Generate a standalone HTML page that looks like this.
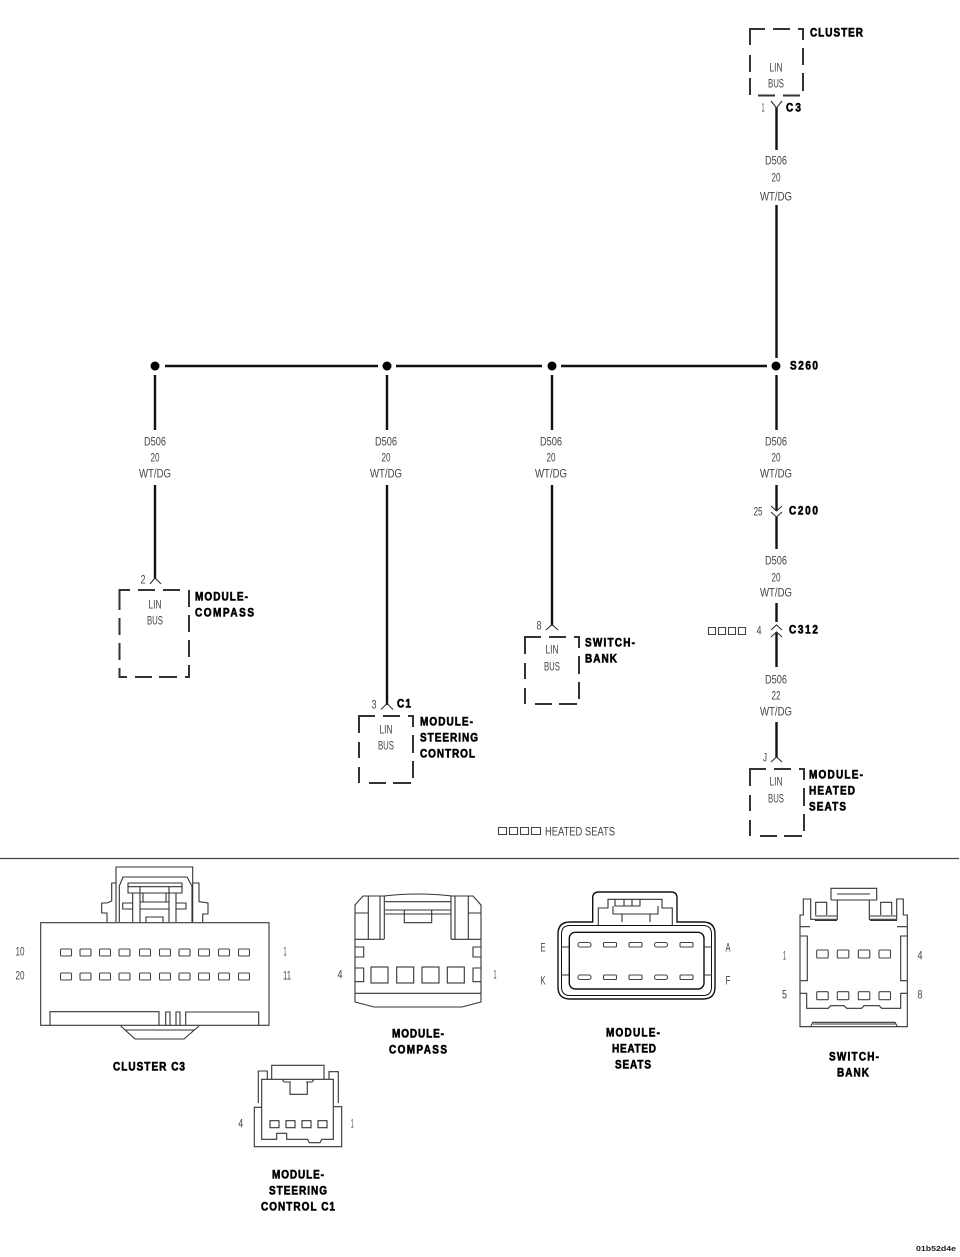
<!DOCTYPE html>
<html><head><meta charset="utf-8"><style>
html,body{margin:0;padding:0;background:#fff}
svg{display:block;filter:blur(.35px)}
text{font-family:"Liberation Sans",sans-serif}
.t{font-size:11px;fill:#444;text-anchor:middle;transform-box:fill-box;transform-origin:50% 100%;transform:translateY(.6px) scaleY(1.1)}
.b{font-size:10px;font-weight:bold;fill:#000;stroke:#000;stroke-width:.5;transform-box:fill-box;transform-origin:0 100%;transform:translateY(1px) scaleY(1.2)}
.c{text-anchor:middle;transform-origin:50% 100%}
.w{stroke:#111;stroke-width:2.4;fill:none}
.a{stroke:#333;stroke-width:1.1;fill:none}
.d{stroke:#333;stroke-width:2;fill:none}
.l{stroke:#333;stroke-width:1.1;fill:none}
.p{stroke:#444;stroke-width:1.1;fill:none}
.h{stroke:#111;stroke-width:1.4;fill:none}
</style></head><body>
<svg width="960" height="1257" viewBox="0 0 960 1257" xmlns="http://www.w3.org/2000/svg">
<defs>
<g id="box"><path class="d" d="M0,17V0H16M24,0H41M49,0H54V11M54,19V37M54,45V62M0,26V42M0,51V67M10,67H27M34,67H52"/></g>
</defs>

<!-- bus -->
<path class="w" d="M165,366H378M396,366H542M561,366H767"/>
<circle cx="155" cy="366" r="4.5" fill="#000"/><circle cx="387" cy="366" r="4.5" fill="#000"/><circle cx="552" cy="366" r="4.5" fill="#000"/><circle cx="776" cy="366" r="4.5" fill="#000"/>

<!-- wires -->
<path class="w" d="M155,375V430M155,485V579M387,375V430M387,485V705M552,375V430M552,485V626"/>
<path class="w" d="M776.500,107V150M776.500,205V358M776.500,375V430M776.500,485V511M776.500,517V549M776.500,603V622M776.500,632V667M776.500,722V758"/>

<!-- arrows -->
<path class="a" d="M150,584L155,578L161,584M381,709.500L387,703.500L393,709.500M546,630L552,624.500L558,630M771,762L776.500,757L782,762"/>
<path class="a" d="M771,101L776.500,108L782,101M771,506L776.500,511L782,506M771,512L776.500,517L782,512M771,630L776.500,625L782,630M771,637L776.500,632L782,637"/>

<!-- wire labels -->
<g class="labels">
<text class="t" x="776" y="164" textLength="22" lengthAdjust="spacingAndGlyphs">D506</text><text class="t" x="776" y="181" textLength="9" lengthAdjust="spacingAndGlyphs">20</text><text class="t" x="776" y="200" textLength="32" lengthAdjust="spacingAndGlyphs">WT/DG</text>
<text class="t" x="155" y="445" textLength="22" lengthAdjust="spacingAndGlyphs">D506</text><text class="t" x="155" y="461" textLength="9" lengthAdjust="spacingAndGlyphs">20</text><text class="t" x="155" y="477" textLength="32" lengthAdjust="spacingAndGlyphs">WT/DG</text>
<text class="t" x="386" y="445" textLength="22" lengthAdjust="spacingAndGlyphs">D506</text><text class="t" x="386" y="461" textLength="9" lengthAdjust="spacingAndGlyphs">20</text><text class="t" x="386" y="477" textLength="32" lengthAdjust="spacingAndGlyphs">WT/DG</text>
<text class="t" x="551" y="445" textLength="22" lengthAdjust="spacingAndGlyphs">D506</text><text class="t" x="551" y="461" textLength="9" lengthAdjust="spacingAndGlyphs">20</text><text class="t" x="551" y="477" textLength="32" lengthAdjust="spacingAndGlyphs">WT/DG</text>
<text class="t" x="776" y="445" textLength="22" lengthAdjust="spacingAndGlyphs">D506</text><text class="t" x="776" y="461" textLength="9" lengthAdjust="spacingAndGlyphs">20</text><text class="t" x="776" y="477" textLength="32" lengthAdjust="spacingAndGlyphs">WT/DG</text>
<text class="t" x="776" y="564" textLength="22" lengthAdjust="spacingAndGlyphs">D506</text><text class="t" x="776" y="581" textLength="9" lengthAdjust="spacingAndGlyphs">20</text><text class="t" x="776" y="596" textLength="32" lengthAdjust="spacingAndGlyphs">WT/DG</text>
<text class="t" x="776" y="683" textLength="22" lengthAdjust="spacingAndGlyphs">D506</text><text class="t" x="776" y="699" textLength="9" lengthAdjust="spacingAndGlyphs">22</text><text class="t" x="776" y="715" textLength="32" lengthAdjust="spacingAndGlyphs">WT/DG</text>
<!-- pins -->
<text class="t" x="763" y="111" textLength="3" lengthAdjust="spacingAndGlyphs">1</text>
<text class="t" x="143" y="583" textLength="5" lengthAdjust="spacingAndGlyphs">2</text>
<text class="t" x="374" y="708" textLength="5" lengthAdjust="spacingAndGlyphs">3</text>
<text class="t" x="539" y="629" textLength="5" lengthAdjust="spacingAndGlyphs">8</text>
<text class="t" x="765" y="761" textLength="4" lengthAdjust="spacingAndGlyphs">J</text>
<text class="t" x="758" y="515" textLength="9" lengthAdjust="spacingAndGlyphs">25</text>
<text class="t" x="759" y="634" textLength="5" lengthAdjust="spacingAndGlyphs">4</text>
<!-- LIN BUS -->
<text class="t" x="776" y="71" textLength="13" lengthAdjust="spacingAndGlyphs">LIN</text><text class="t" x="776" y="87" textLength="16" lengthAdjust="spacingAndGlyphs">BUS</text>
<text class="t" x="155" y="608" textLength="13" lengthAdjust="spacingAndGlyphs">LIN</text><text class="t" x="155" y="624" textLength="16" lengthAdjust="spacingAndGlyphs">BUS</text>
<text class="t" x="386" y="733" textLength="13" lengthAdjust="spacingAndGlyphs">LIN</text><text class="t" x="386" y="749" textLength="16" lengthAdjust="spacingAndGlyphs">BUS</text>
<text class="t" x="552" y="653" textLength="13" lengthAdjust="spacingAndGlyphs">LIN</text><text class="t" x="552" y="670" textLength="16" lengthAdjust="spacingAndGlyphs">BUS</text>
<text class="t" x="776" y="785" textLength="13" lengthAdjust="spacingAndGlyphs">LIN</text><text class="t" x="776" y="802" textLength="16" lengthAdjust="spacingAndGlyphs">BUS</text>
</g>

<!-- dashed boxes -->
<path class="d" d="M750,45V29H765M773,29H790M798,29H803V40M803,48V65M803,73V91M750,55V72M750,78V95M758,95.500H775M783,95.500H800"/>
<path class="d" d="M119.500,610V590H130M138,590H155M163,590H180M189,590V607M189,615V632M189,640V657M189,665V677H185M177,677H159M152,677H135M127,677H119.500V668M119.500,660V643M119.500,635V618"/>
<use href="#box" x="359" y="716"/>
<use href="#box" x="525" y="637"/>
<use href="#box" x="750" y="769"/>

<!-- bold labels -->
<text class="b" x="810" y="36" textLength="53">CLUSTER</text>
<text class="b" x="786" y="111" textLength="15">C3</text>
<text class="b" x="790" y="369" textLength="28">S260</text>
<text class="b" x="789" y="514" textLength="29">C200</text>
<text class="b" x="789" y="633" textLength="29">C312</text>
<text class="b" x="195" y="600" textLength="53">MODULE-</text>
<text class="b" x="195" y="616" textLength="59">COMPASS</text>
<text class="b" x="397" y="707" textLength="14">C1</text>
<text class="b" x="420" y="725" textLength="53">MODULE-</text>
<text class="b" x="420" y="741" textLength="58">STEERING</text>
<text class="b" x="420" y="757" textLength="55">CONTROL</text>
<text class="b" x="585" y="646" textLength="50">SWITCH-</text>
<text class="b" x="585" y="662" textLength="32">BANK</text>
<text class="b" x="809" y="778" textLength="54">MODULE-</text>
<text class="b" x="809" y="794" textLength="46">HEATED</text>
<text class="b" x="809" y="810" textLength="37">SEATS</text>

<!-- small squares -->
<path class="p" d="M708.500,627.500h7v7h-7zM718.500,627.500h7v7h-7zM728.500,627.500h7v7h-7zM738.500,627.500h7v7h-7z"/>
<path class="p" d="M498.500,827.500h8v7h-8zM509.500,827.500h8v7h-8zM520.500,827.500h8v7h-8zM531.500,827.500h9v7h-9z"/>
<text class="t" x="580" y="835" textLength="70" lengthAdjust="spacingAndGlyphs">HEATED SEATS</text>

<!-- divider -->
<path d="M0,858.500H959" stroke="#444" stroke-width="1.300"/>

<!-- CLUSTER C3 connector -->
<g class="l">
<rect x="40.700" y="922.700" width="228.300" height="102.600"/>
<path d="M50,1025V1011.700H159V1025M185.700,1025V1012H258.700V1025M165.700,1025V1012H170V1025M176,1025V1012H180V1025"/>
<path d="M120.700,1026L135,1039H184L199,1026M125,1030H195"/>
<path d="M116,922V867H192.700V922M119.300,922V886L123,877H187L192,886V922"/>
<path d="M107,922V913H101.700V903H107L111.700,901V883H116M202.700,922V914H208V903L199,901.700V883H193"/>
<path d="M128,883H182V893H128ZM128,886.700H182M132.700,893V922M140,887V922M169,887V922M176,893V922M143,893V902H166V893"/>
<path d="M132.700,903H122.700V909H132.700M176,903H186V909H176M140,909H169M146,922V917H163V922M140,902H169"/>
</g>
<g class="p">
<rect x="60.500" y="949" width="11" height="7" rx="1"/><rect x="80" y="949" width="11" height="7" rx="1"/><rect x="99.500" y="949" width="11" height="7" rx="1"/><rect x="119" y="949" width="11" height="7" rx="1"/><rect x="139.500" y="949" width="11" height="7" rx="1"/><rect x="159.500" y="949" width="11" height="7" rx="1"/><rect x="179" y="949" width="11" height="7" rx="1"/><rect x="198.500" y="949" width="11" height="7" rx="1"/><rect x="218.500" y="949" width="11" height="7" rx="1"/><rect x="238.500" y="949" width="11" height="7" rx="1"/>
<rect x="60.500" y="973" width="11" height="7" rx="1"/><rect x="80" y="973" width="11" height="7" rx="1"/><rect x="99.500" y="973" width="11" height="7" rx="1"/><rect x="119" y="973" width="11" height="7" rx="1"/><rect x="139.500" y="973" width="11" height="7" rx="1"/><rect x="159.500" y="973" width="11" height="7" rx="1"/><rect x="179" y="973" width="11" height="7" rx="1"/><rect x="198.500" y="973" width="11" height="7" rx="1"/><rect x="218.500" y="973" width="11" height="7" rx="1"/><rect x="238.500" y="973" width="11" height="7" rx="1"/>
</g>
<text class="t" x="20" y="955" textLength="9" lengthAdjust="spacingAndGlyphs">10</text>
<text class="t" x="20" y="979" textLength="9" lengthAdjust="spacingAndGlyphs">20</text>
<text class="t" x="285" y="955" textLength="3" lengthAdjust="spacingAndGlyphs">1</text>
<text class="t" x="287" y="979" textLength="8" lengthAdjust="spacingAndGlyphs">11</text>
<text class="b c" x="149" y="1070" textLength="72">CLUSTER C3</text>

<!-- COMPASS connector -->
<g class="l">
<path d="M355,905L363,896H384Q418,892 452,896H473L481,905V1002L462,1007H374L355,1002Z"/>
<path d="M355,993.300H481M355,939.300H384.300M451,939.300H481M368.300,896V939M380,896V939M384.300,896V939M451,896V939M455,896V939M468.300,896V939M355,913H368M468,913H481"/>
<path d="M385,901.700H451M385,910H451M385,914H451M404.300,910V922.700H431.700V910"/>
<path d="M355,947H363.700V957H355M355,968H363.700V981.700H355M481,947H473V957H481M481,968H473V981.700H481"/>
<rect x="371" y="967" width="17" height="16"/><rect x="396.700" y="967" width="17" height="16"/><rect x="422" y="967" width="17" height="16"/><rect x="447.300" y="967" width="17" height="16"/>
</g>
<text class="t" x="340" y="978" textLength="5" lengthAdjust="spacingAndGlyphs">4</text>
<text class="t" x="495" y="978" textLength="3" lengthAdjust="spacingAndGlyphs">1</text>
<text class="b c" x="418" y="1037" textLength="52">MODULE-</text>
<text class="b c" x="418" y="1053" textLength="58">COMPASS</text>

<!-- HEATED SEATS connector -->
<g class="h">
<path d="M592.700,922V898Q592.700,892 599,892H671Q677,892 677,898V922H703Q715,922 715,934V987Q715,999 703,999H570Q558,999 558,987V934Q558,922 570,922Z"/>
<path d="M570,925.500H703Q711.500,925.500 711.500,934V987Q711.500,995.500 703,995.500H570Q561.500,995.500 561.500,987V934Q561.500,925.500 570,925.500Z" stroke-width="1"/>
<rect x="569.300" y="932.300" width="134.700" height="56.700" rx="6"/>
</g>
<g class="l">
<path d="M561,947H569M561,975H569M704,947H712M704,975H712"/>
<path d="M598.300,925V908H608V899.300H662V908H672.300V925M615,899V906H640V899M624,899V906M632,899V906M613,906V914H658V906M622,914V922M650,914V922"/>
</g>
<g class="p">
<rect x="578" y="942.500" width="13" height="4.500" rx="2"/><rect x="603.500" y="942.500" width="13" height="4.500" rx="1"/><rect x="629" y="942.500" width="13" height="4.500" rx="1"/><rect x="654.500" y="942.500" width="13" height="4.500" rx="2"/><rect x="680" y="942.500" width="13" height="4.500" rx="1"/>
<rect x="578" y="975" width="13" height="4.500" rx="2"/><rect x="603.500" y="975" width="13" height="4.500" rx="1"/><rect x="629" y="975" width="13" height="4.500" rx="1"/><rect x="654.500" y="975" width="13" height="4.500" rx="2"/><rect x="680" y="975" width="13" height="4.500" rx="1"/>
</g>
<text class="t" x="543" y="951" textLength="5" lengthAdjust="spacingAndGlyphs">E</text>
<text class="t" x="543" y="984" textLength="5" lengthAdjust="spacingAndGlyphs">K</text>
<text class="t" x="728" y="951" textLength="5" lengthAdjust="spacingAndGlyphs">A</text>
<text class="t" x="728" y="984" textLength="5" lengthAdjust="spacingAndGlyphs">F</text>
<text class="b c" x="633" y="1036" textLength="54">MODULE-</text>
<text class="b c" x="634" y="1052" textLength="44">HEATED</text>
<text class="b c" x="633" y="1068" textLength="36">SEATS</text>

<!-- SWITCH BANK connector -->
<g class="l">
<path d="M800,926.700V915H803.300V899H810.700V919.300H837.300V900H869.300V919.300H896.700V899H903.300V915H907.300V1026.700H800Z"/>
<path d="M831,900V888.300H876.700V900M837,894H870M831,900H837M870,900H877M800,926.700H810M897,926.700H907"/>
<path d="M815.700,915V902.300H826.700V915M880.700,915V902.300H891.700V915M815,916H837M870,916H897M815,920.500H837M870,920.500H897"/>
<path d="M800.700,936H807.300V980.700H800.700M907,936H900.700V980.700H907"/>
<path d="M800,982V993.300H806.700V1008.300H828.300L830.700,1005.700H844L846.700,1008.300H861.700L864,1005.700H879.300L881.700,1008.300H900.700V993.300H907.300"/>
<path d="M810.700,1026.700L812.700,1022.300H895L897.300,1026.700M813,1024H895"/>
</g>
<g class="p">
<rect x="816.700" y="950" width="11.500" height="8" rx="1"/><rect x="837.300" y="950" width="11.500" height="8" rx="1"/><rect x="858.300" y="950" width="11.500" height="8" rx="1"/><rect x="879" y="950" width="11.500" height="8" rx="1"/>
<rect x="816.700" y="991.700" width="11.500" height="8" rx="1"/><rect x="837.300" y="991.700" width="11.500" height="8" rx="1"/><rect x="858.300" y="991.700" width="11.500" height="8" rx="1"/><rect x="879" y="991.700" width="11.500" height="8" rx="1"/>
</g>
<text class="t" x="784.500" y="959" textLength="3" lengthAdjust="spacingAndGlyphs">1</text>
<text class="t" x="784.500" y="998" textLength="5" lengthAdjust="spacingAndGlyphs">5</text>
<text class="t" x="920" y="959" textLength="5" lengthAdjust="spacingAndGlyphs">4</text>
<text class="t" x="920" y="998" textLength="5" lengthAdjust="spacingAndGlyphs">8</text>
<text class="b c" x="854" y="1060" textLength="50">SWITCH-</text>
<text class="b c" x="853" y="1076" textLength="32">BANK</text>

<!-- STEERING connector -->
<g class="l">
<path d="M271.700,1079V1065.300H324V1079M258.300,1103V1071H267.300V1079M329,1079V1071.700H338.300V1103"/>
<path d="M261.700,1139.300V1079.300H333.300V1139.300H321.700L320,1142.700H309.300L307.500,1139.300H286.700V1133.300H276.700V1139.300Z"/>
<path d="M261.700,1107.300H254.300V1146.700H341.700V1106.700H333.300"/>
<path d="M290,1082V1094.300H307.300V1082M282.300,1079.500L284,1082H290.700M314,1079.500L312,1082H306"/>
<rect x="270" y="1120.700" width="9" height="7"/><rect x="286" y="1120.700" width="9" height="7"/><rect x="302" y="1120.700" width="9" height="7"/><rect x="318" y="1120.700" width="9" height="7"/>
</g>
<text class="t" x="240.700" y="1127" textLength="5" lengthAdjust="spacingAndGlyphs">4</text>
<text class="t" x="352.300" y="1127" textLength="3" lengthAdjust="spacingAndGlyphs">1</text>
<text class="b c" x="298" y="1178" textLength="52">MODULE-</text>
<text class="b c" x="298" y="1194" textLength="58">STEERING</text>
<text class="b c" x="298" y="1210" textLength="74">CONTROL C1</text>

<text x="916" y="1251" font-size="7" font-weight="bold" fill="#222" textLength="40" lengthAdjust="spacingAndGlyphs">01b52d4e</text>
</svg>
</body></html>
